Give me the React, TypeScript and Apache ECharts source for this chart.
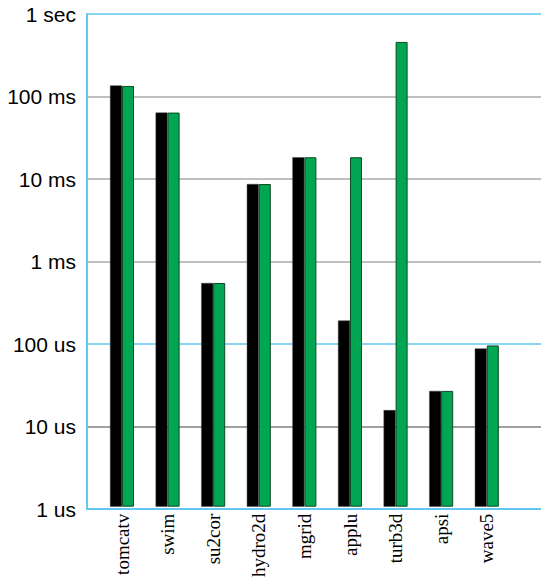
import React, { useEffect, useRef } from "react";
import * as echarts from "echarts";

const categories = ["tomcatv", "swim", "su2cor", "hydro2d", "mgrid", "applu", "turb3d", "apsi", "wave5"];
// times in seconds
const seriesBlack = [0.135, 0.063, 0.00053, 0.0085, 0.018, 0.000185, 0.000015, 0.0000257, 0.0000845];
const seriesGreen = [0.133, 0.063, 0.00053, 0.0085, 0.018, 0.018, 0.457, 0.0000257, 0.000092];
const tickLabels = ["1 us", "10 us", "100 us", "1 ms", "10 ms", "100 ms", "1 sec"];

const CYAN = "#62c8ee";

export default function App() {
  const ref = useRef<HTMLDivElement>(null);
  useEffect(() => {
    if (!ref.current) return;
    const chart = echarts.init(ref.current, null, { renderer: "svg" });
    const yCommon = {
      type: "log" as const,
      logBase: 10,
      min: 1e-6,
      max: 1,
      startValue: 1e-6,
    };
    chart.setOption({
      animation: false,
      backgroundColor: "#ffffff",
      grid: [
        { left: 87, top: 14, right: 0, bottom: 71 },
        { left: 99.2, top: 14, right: 31.4, bottom: 71 },
      ],
      xAxis: [
        {
          gridIndex: 0,
          type: "value",
          min: 0,
          max: 1,
          axisLine: { show: true, onZero: false, lineStyle: { color: CYAN, width: 2 } },
          axisTick: { show: false },
          axisLabel: { show: false },
          splitLine: { show: false },
        },
        {
          gridIndex: 1,
          type: "category",
          data: categories,
          axisLine: { show: false },
          axisTick: { show: false },
          axisLabel: {
            rotate: 90,
            margin: 7,
            fontFamily: "Liberation Serif",
            fontSize: 19,
            color: "#000",
            interval: 0,
          },
          splitLine: { show: false },
        },
      ],
      yAxis: [
        {
          gridIndex: 0,
          ...yCommon,
          axisLine: { show: true, lineStyle: { color: CYAN, width: 2 } },
          axisTick: { show: false },
          axisLabel: {
            margin: 11,
            fontFamily: "Liberation Sans",
            fontSize: 21,
            color: "#000",
            formatter: (v: number) => tickLabels[Math.round(Math.log10(v)) + 6] ?? "",
          },
          splitLine: {
            show: true,
            lineStyle: {
              color: ["#aaaaaa", "#808080", CYAN, "#aaaaaa", "#aaaaaa", "#aaaaaa", CYAN],
              width: 1.5,
            },
          },
        },
        {
          gridIndex: 1,
          ...yCommon,
          show: false,
          splitLine: { show: false },
        },
      ],
      series: [
        {
          type: "bar",
          xAxisIndex: 1,
          yAxisIndex: 1,
          data: seriesBlack,
          barWidth: 12,
          barGap: "0%",
          itemStyle: { color: "#000000", borderColor: "#444444", borderWidth: 0.5 },
        },
        {
          type: "bar",
          xAxisIndex: 1,
          yAxisIndex: 1,
          data: seriesGreen,
          barWidth: 12,
          barGap: "0%",
          itemStyle: { color: "#00a651", borderColor: "#0c4a25", borderWidth: 1 },
        },
      ],
    });
    return () => chart.dispose();
  }, []);
  return (
    <div
      ref={ref}
      style={{ position: "absolute", left: 0, top: 0, width: 541, height: 580 }}
    />
  );
}
